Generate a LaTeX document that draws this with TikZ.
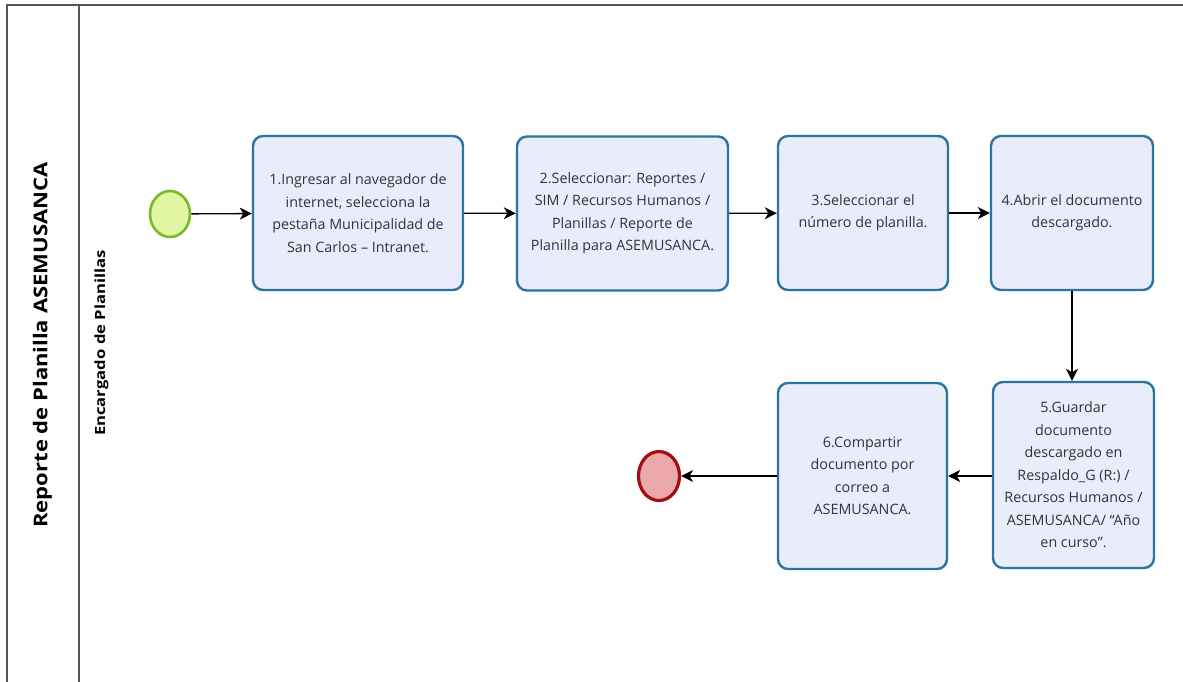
\documentclass[tikz,border=0pt]{standalone}
\usepackage{fontspec}
\setmainfont{Open Sans}
\usetikzlibrary{arrows.meta,shapes.geometric}
\definecolor{taskfill}{HTML}{E9EDFB}
\definecolor{taskdraw}{HTML}{2B73A0}
\definecolor{textgray}{HTML}{333333}
\definecolor{startfill}{HTML}{E2F7A2}
\definecolor{startdraw}{HTML}{79B92A}
\definecolor{endfill}{HTML}{ECA9A9}
\definecolor{enddraw}{HTML}{A20E10}
\definecolor{laneline}{HTML}{555555}
\begin{document}
\begin{tikzpicture}[x=1pt,y=-1pt,
  task/.style={draw=taskdraw, fill=taskfill, line width=2.4pt, rounded corners=10pt,
    align=center, font=\fontsize{14.3}{22.5}\selectfont, text=textgray, inner sep=0pt},
  startev/.style={ellipse, draw=startdraw, fill=startfill, line width=2.6pt, minimum width=40pt, minimum height=46pt, inner sep=0pt},
  endev/.style={ellipse, draw=enddraw, fill=endfill, line width=3.2pt, minimum width=41pt, minimum height=49pt, inner sep=0pt},
  flow/.style={-{Stealth[length=12pt,width=12pt,inset=3.5pt]}, line width=1.3pt, black},
  lane/.style={draw=laneline, line width=1.5pt}]
\useasboundingbox (0,0) rectangle (1183,682);
\draw[lane] (7,690) -- (7,5) -- (1190,5);
\draw[lane] (79,5) -- (79,690);
\node[rotate=90, font=\bfseries\fontsize{19}{22}\selectfont, text=black] (pool) at (42.5,345)
  {\scalebox{1.16}[1]{Reporte de Planilla ASEMUSANCA}};
\node[rotate=90, font=\bfseries\fontsize{14}{16}\selectfont, text=black] (lanelbl) at (101.5,343)
  {\scalebox{1.19}[1]{Encargado de Planillas}};

\node[startev] (s) at (170,214) {};
\node[task, minimum width=210pt, minimum height=154pt] (t1) at (358,213)
  {1.Ingresar al navegador de\\internet, selecciona la\\pestaña Municipalidad de\\San Carlos – Intranet.};
\node[task, minimum width=211pt, minimum height=154pt] (t2) at (622.5,213.5)
  {2.Seleccionar: Reportes /\\SIM / Recursos Humanos /\\Planillas / Reporte de\\Planilla para ASEMUSANCA.};
\node[task, minimum width=170pt, minimum height=154pt] (t3) at (863,213)
  {3.Seleccionar el\\número de planilla.};
\node[task, minimum width=162pt, minimum height=154pt] (t4) at (1072,213)
  {4.Abrir el documento\\descargado.};
\node[task, minimum width=161pt, minimum height=186pt] (t5) at (1073.5,475)
  {5.Guardar\\documento\\descargado en\\Respaldo\_G (R:) /\\Recursos Humanos /\\ASEMUSANCA/ “Año\\en curso”.};
\node[task, minimum width=169pt, minimum height=186pt] (t6) at (862.5,476)
  {6.Compartir\\documento por\\correo a\\ASEMUSANCA.};
\node[endev] (e) at (659,476) {};

\draw[flow] (s) -- (t1);
\draw[flow] (t1) -- (t2);
\draw[flow] (t2) -- (t3);
\draw[flow] (t3) -- (t4);
\draw[flow] (t4.south) -- (t4.south |- t5.north);
\draw[flow] (t5.west |- t6) -- (t6);
\draw[flow] (t6) -- (e);
\end{tikzpicture}
\end{document}
